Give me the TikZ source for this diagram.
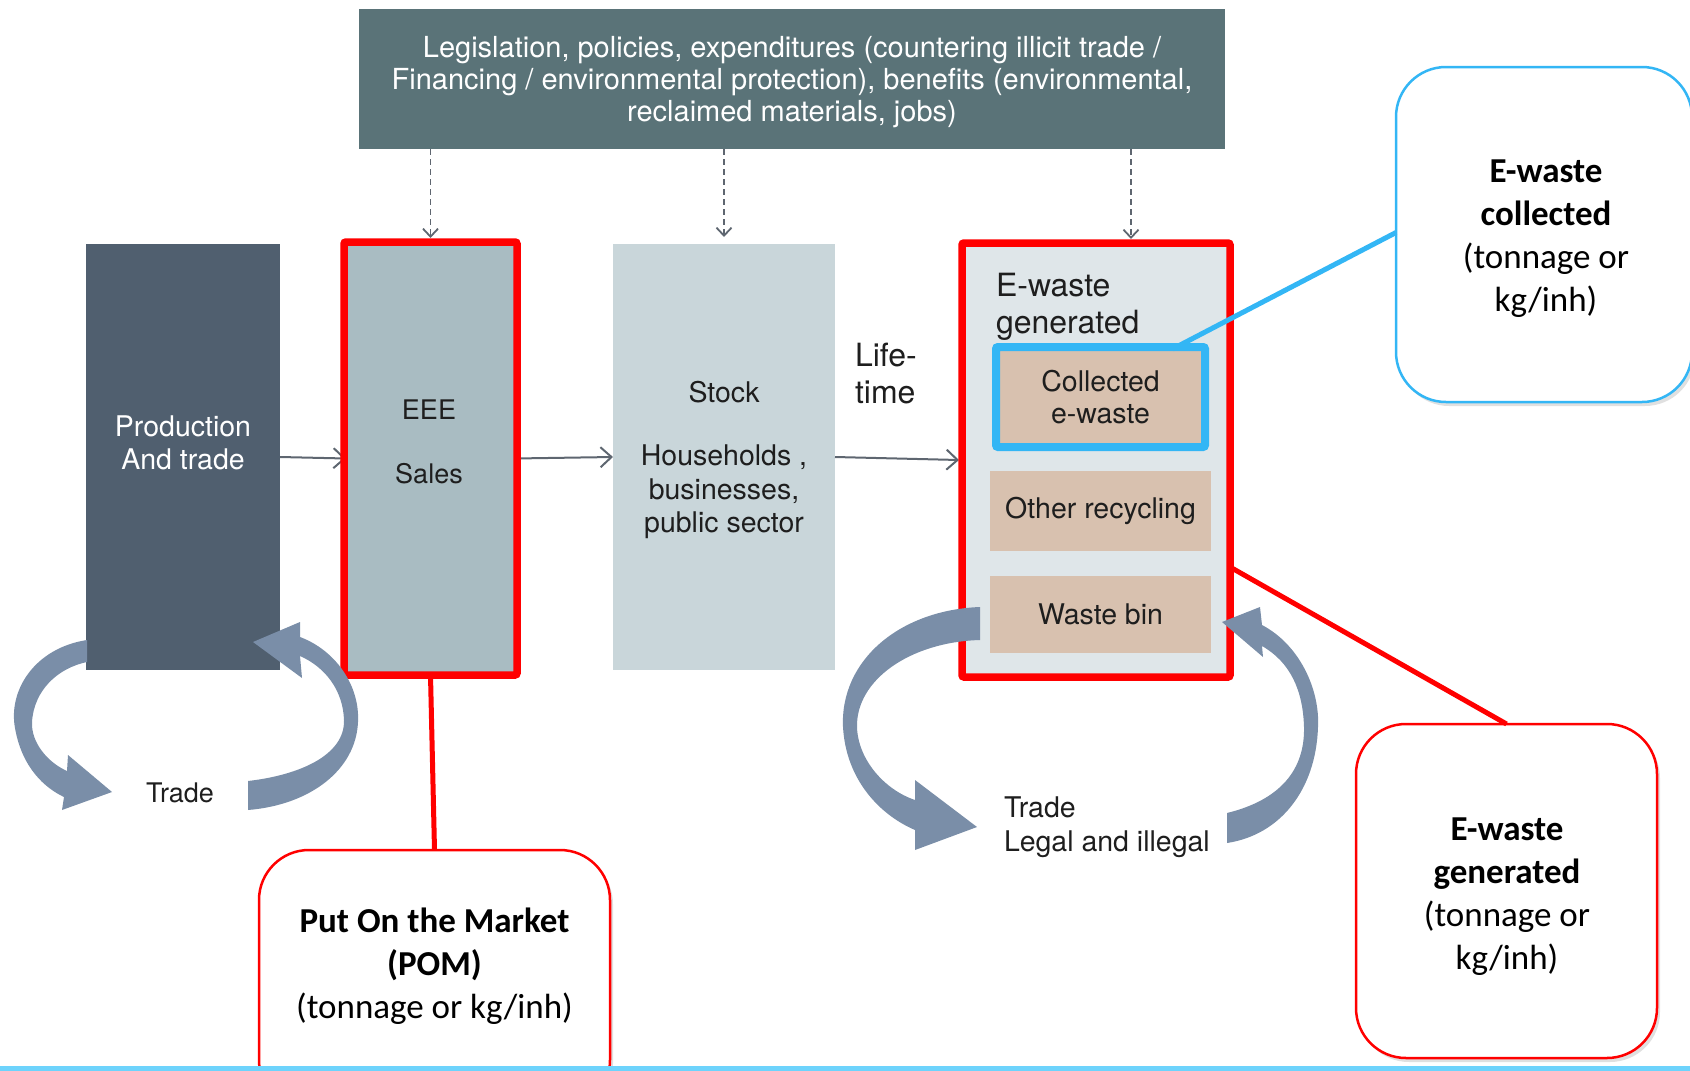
\documentclass[tikz,border=0pt]{standalone}
\usepackage{fontspec}
\setmainfont{TeX Gyre Heros}
\newfontfamily\calfont{Carlito}
\usetikzlibrary{arrows.meta,shadows,calc}
\definecolor{topc}{HTML}{5A7378}
\definecolor{prodc}{HTML}{505F6F}
\definecolor{eeec}{HTML}{A9BCC2}
\definecolor{stockc}{HTML}{C9D6DA}
\definecolor{ewc}{HTML}{DFE6E9}
\definecolor{tanc}{HTML}{D8C1AF}
\definecolor{redc}{HTML}{FF0000}
\definecolor{bluec}{HTML}{33B6F5}
\definecolor{arrc}{HTML}{7A8EA8}
\definecolor{linec}{HTML}{5E6670}
\definecolor{txtc}{HTML}{1E1E1E}
\definecolor{botc}{HTML}{6DD3FC}
\begin{document}
\begin{tikzpicture}[x=1pt,y=-1pt,
  blk/.style={rectangle, inner sep=0pt, outer sep=0pt, align=center, text=txtc},
  redframe/.style={rectangle, draw=redc, line width=7.5pt, rounded corners=2pt, inner sep=0pt, outer sep=0pt},
  callout/.style={rectangle, rounded corners=50pt, fill=white, line width=2.5pt, inner sep=0pt, outer sep=0pt,
     drop shadow={shadow xshift=3pt, shadow yshift=-4pt, opacity=0.12, fill=black}},
  calltext/.style={inner sep=0pt, outer sep=0pt, align=center, text=black, font=\calfont\fontsize{35}{43}\selectfont},
  flowarrow/.style={draw=linec, line width=2pt, -{Straight Barb[length=11pt,width=20pt,line width=2pt]}},
  dasharrow/.style={draw=linec, line width=1.7pt, dash pattern=on 6pt off 4pt, -{Straight Barb[length=8pt,width=15pt,line width=1.8pt]}},
  ribbon/.style={fill=arrc, draw=none},
  lbl/.style={inner sep=0pt, outer sep=0pt, text=txtc, align=center, font=\fontsize{28.5}{33.5}\selectfont}
]
\useasboundingbox (0,0) rectangle (1690,1071);

% top box
\node[blk, fill=topc, minimum width=866pt, minimum height=140pt] (top) at (792,79) {};
\node[inner sep=0pt, align=center, text=white, font=\fontsize{29}{32}\selectfont] (toptxt) at (792,82)
  {Legislation, policies, expenditures (countering illicit trade /\\
   Financing / environmental protection), benefits (environmental,\\
   reclaimed materials, jobs)};

% main boxes
\node[blk, fill=prodc, minimum width=194pt, minimum height=426pt] (prod) at (183,457) {};
\node[lbl, text=white] (prodtxt) at (183,443) {Production\\And trade};
\node[blk, fill=eeec, minimum width=169pt, minimum height=428pt] (eee) at (430.5,458.5) {};
\node[lbl, font=\fontsize{27}{32}\selectfont] (eeetxt) at (429,410) {EEE};
\node[lbl, font=\fontsize{27}{32}\selectfont] (salestxt) at (429,474) {Sales};
\node[blk, fill=stockc, minimum width=222pt, minimum height=426pt] (stock) at (724,457) {};
\node[lbl] (stocktxt) at (724,392) {Stock};
\node[lbl] (hhtxt) at (724,492) {Households ,\\businesses,\\public sector};

\node[blk, fill=ewc, minimum width=266pt, minimum height=432pt] (ew) at (1096,460) {};
\node[lbl, anchor=north west, align=left, font=\fontsize{32}{37}\selectfont] (ewtxt) at (996,273) {E-waste\\generated};
\node[blk, fill=tanc, draw=bluec, line width=8pt, rounded corners=2pt, minimum width=209pt, minimum height=100pt,
  font=\fontsize{28.5}{32}\selectfont] (coll) at (1100.5,397) {Collected\\e-waste};
\node[blk, fill=tanc, minimum width=221pt, minimum height=80pt, font=\fontsize{28.5}{32}\selectfont] (other) at (1100.5,511) {Other recycling};
\node[blk, fill=tanc, minimum width=221pt, minimum height=77pt, font=\fontsize{28.5}{32}\selectfont] (bin) at (1100.5,614.5) {Waste bin};

\node[lbl, anchor=west, align=left, font=\fontsize{32}{37}\selectfont] (life) at (855,374) {Life-\\time};

% flow arrows
\draw[flowarrow] (prod.east) -- (eee.west);
\draw[flowarrow] (eee.east) -- (stock.west);
\draw[flowarrow] (stock.east) -- ([xshift=-4pt]ew.west);

% red frames
\node[redframe, minimum width=173pt, minimum height=433pt] (eeered) at (430.5,458.5) {};
\node[redframe, minimum width=268pt, minimum height=434pt] (ewred) at (1096,460) {};

% dashed arrows
\coordinate (ewtop) at (1131,243);
\draw[dasharrow, shorten >=4pt] (top.south -| eeered.north) -- (eeered.north);
\draw[dasharrow, shorten >=7pt] (top.south -| stock.north) -- (stock.north);
\draw[dasharrow, shorten >=4pt] (top.south -| ewtop) -- (ewtop);

% trade ribbons, left group
\path[ribbon] (87,640) .. controls (35,648) and (8,690) .. (15,728) .. controls (22,768) and (45,788) .. (64,797)
  -- (62,810) -- (112,792) -- (68,755) -- (67,771) .. controls (47,762) and (31,742) .. (32,722)
  .. controls (34,690) and (58,668) .. (87,662) -- cycle;
\path[ribbon] (248,781) .. controls (300,775) and (345,755) .. (344,720) .. controls (343,690) and (325,667) .. (300,656)
  -- (302,678) -- (253,642) -- (300,622) -- (300,637) .. controls (335,650) and (360,685) .. (358,722)
  .. controls (356,770) and (310,805) .. (248,810) -- cycle;
\node[lbl, anchor=west, font=\fontsize{27}{32}\selectfont] (trade1) at (146,793) {Trade};

% trade ribbons, right group
\path[ribbon] (980,607) .. controls (900,610) and (840,660) .. (843,727) .. controls (846,780) and (880,815) .. (915,830)
  -- (915,850) -- (977,827) -- (915,780) -- (915,800) .. controls (885,790) and (858,760) .. (857,727)
  .. controls (856,680) and (910,642) .. (980,640) -- cycle;
\path[ribbon] (1227,813) .. controls (1280,800) and (1305,770) .. (1304,727) .. controls (1303,690) and (1290,662) .. (1262,646)
  -- (1263,657) -- (1222,622) -- (1260,607) -- (1262,625) .. controls (1300,645) and (1320,690) .. (1318,727)
  .. controls (1316,790) and (1280,835) .. (1227,843) -- cycle;
\node[lbl, anchor=north west, align=left] (trade2) at (1004,797) {Trade\\Legal and illegal};

% callouts
\node[callout, draw=bluec, minimum width=296pt, minimum height=335pt] (ccall) at (1544,234.5) {};
\node[calltext] (ccalltxt) at (1546,239) {\textbf{E-waste}\\\textbf{collected}\\(tonnage or\\kg/inh)};
\node[callout, draw=redc, minimum width=301pt, minimum height=334pt] (gcall) at (1506.5,891) {};
\node[calltext] (gcalltxt) at (1507,897) {\textbf{E-waste}\\\textbf{generated}\\(tonnage or\\kg/inh)};
\node[callout, draw=redc, minimum width=351pt, minimum height=260pt] (pom) at (434.5,980) {};
\node[calltext] (pomtxt) at (434.5,966) {\textbf{Put On the Market}\\\textbf{(POM)}\\(tonnage or kg/inh)};

% connectors
\draw[redc, line width=5pt] (eeered.south) -- (pom.north);
\draw[redc, line width=5pt] ([yshift=-107pt]ewred.east) -- (gcall.north);
\draw[bluec, line width=5pt] ([xshift=72pt,yshift=-2pt]coll.north) -- ([yshift=2pt]ccall.west);

% bottom line
\fill[botc] (0,1066) rectangle (1690,1071);
\end{tikzpicture}
\end{document}
